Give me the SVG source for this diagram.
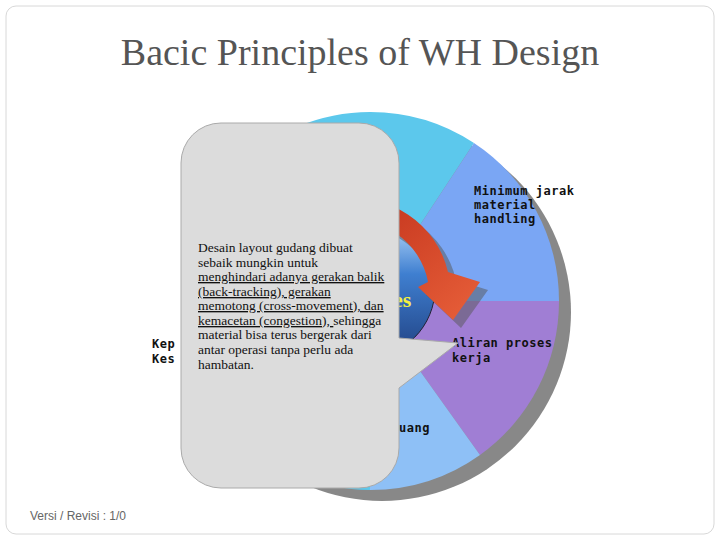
<svg xmlns="http://www.w3.org/2000/svg" width="720" height="540" viewBox="0 0 720 540">
<defs>
<linearGradient id="gb" x1="0" y1="0" x2="0" y2="1"><stop offset="0" stop-color="#bfe0ff"/><stop offset="0.4" stop-color="#3f7fd0"/><stop offset="1" stop-color="#1f3f80"/></linearGradient>
<linearGradient id="ga" x1="0" y1="0" x2="1" y2="1"><stop offset="0" stop-color="#c0301a"/><stop offset="1" stop-color="#e8603a"/></linearGradient>
<style>
.lbl{font-family:"DejaVu Sans Mono",monospace;font-size:12px;font-weight:bold;fill:#111;letter-spacing:0.5px}
.note{font-family:"Liberation Serif",serif;font-size:13.5px;fill:#111}
</style>
</defs>
<rect x="0" y="0" width="720" height="540" fill="#fff"/>
<rect x="6" y="6" width="708" height="528" rx="10" fill="none" stroke="#d8d8d8"/>
<text x="360" y="65" text-anchor="middle" font-family="Liberation Serif,serif" font-size="38" fill="#555">Bacic Principles of WH Design</text>
<g id="wheel">
<circle cx="382" cy="312" r="189" fill="#888"/>
<path d="M370 301 L370 112 A189 189 0 0 1 474 143 Z" fill="#5cc8ec"/>
<path d="M370 301 L474 143 A189 189 0 0 1 559 301 Z" fill="#7aa6f4"/>
<path d="M370 301 L559 301 A189 189 0 0 1 480 455 Z" fill="#a07ed4"/>
<path d="M370 301 L480 455 A189 189 0 0 1 370 490 Z" fill="#8ec0f6"/>
<path d="M370 301 L370 490 A189 189 0 0 1 370 112 Z" fill="#5cc8ec"/>
<circle cx="365" cy="288" r="70" fill="url(#gb)" stroke="#223" stroke-width="1"/>
<path d="M340 200 A95 95 0 0 1 448 272 L480 282 L453 320 L418 287 L428 282 A75 75 0 0 0 340 222 Z" fill="#555" opacity="0.5" transform="translate(8,8)"/>
<path d="M340 200 A95 95 0 0 1 448 272 L480 282 L453 320 L418 287 L428 282 A75 75 0 0 0 340 222 Z" fill="url(#ga)"/>
<text x="393" y="307" font-family="Liberation Serif,serif" font-size="22" font-weight="bold" fill="#f4f040">es</text>
<text class="lbl" x="474" y="195">Minimum jarak</text>
<text class="lbl" x="474" y="209">material</text>
<text class="lbl" x="474" y="223">handling</text>
<text class="lbl" x="452" y="347">Aliran proses</text>
<text class="lbl" x="452" y="362">kerja</text>
<text class="lbl" x="152" y="348">Kep</text>
<text class="lbl" x="152" y="363">Kes</text>
<text class="lbl" x="399" y="432">uang</text>
</g>
<g id="callout">
<path d="M221 123 H359 A40 40 0 0 1 399 163 V338 L458 343 L399 388 V448 A40 40 0 0 1 359 488 H221 A40 40 0 0 1 181 448 V163 A40 40 0 0 1 221 123 Z" fill="#dcdcdc" stroke="#aaa" stroke-width="1"/>
<text class="note" x="198" y="252">Desain layout gudang dibuat</text>
<text class="note" x="198" y="267">sebaik mungkin untuk</text>
<text class="note" x="198" y="281" text-decoration="underline">menghindari adanya gerakan balik</text>
<text class="note" x="198" y="296" text-decoration="underline">(back-tracking), gerakan</text>
<text class="note" x="198" y="310" text-decoration="underline">memotong (cross-movement), dan</text>
<text class="note" x="198" y="325"><tspan text-decoration="underline">kemacetan (congestion), </tspan>sehingga</text>
<text class="note" x="198" y="339">material bisa terus bergerak dari</text>
<text class="note" x="198" y="354">antar operasi tanpa perlu ada</text>
<text class="note" x="198" y="369">hambatan.</text>
</g>
<text x="30" y="520" font-family="Liberation Sans,sans-serif" font-size="12" fill="#666">Versi / Revisi : 1/0</text>
</svg>
